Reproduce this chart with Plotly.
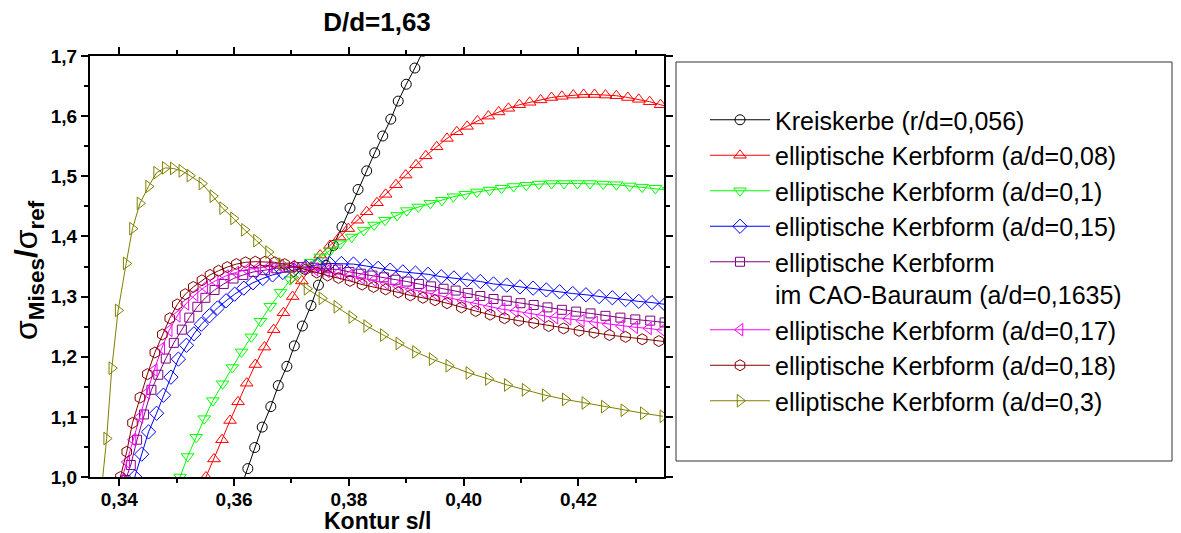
import plotly.graph_objects as go

# ---------------- data ----------------
names = [
    "Kreiskerbe (r/d=0,056)",
    "elliptische Kerbform (a/d=0,08)",
    "elliptische Kerbform (a/d=0,1)",
    "elliptische Kerbform (a/d=0,15)",
    "elliptische Kerbform<br>im CAO-Bauraum (a/d=0,1635)",
    "elliptische Kerbform (a/d=0,17)",
    "elliptische Kerbform (a/d=0,18)",
    "elliptische Kerbform (a/d=0,3)",
]

kreis_x = [0.3611, 0.3624, 0.3636, 0.3649, 0.3664, 0.3677, 0.3692, 0.3705, 0.3719, 0.3734, 0.3747,
           0.3760, 0.3773, 0.3788, 0.3802, 0.3816, 0.3831, 0.3845, 0.3859, 0.3873, 0.3886,
           0.3900, 0.3915, 0.3929]
kreis_y = [0.980, 1.014, 1.049, 1.083, 1.117, 1.152, 1.184, 1.218, 1.251, 1.285, 1.319,
           1.352, 1.385, 1.416, 1.447, 1.478, 1.509, 1.539, 1.567, 1.595, 1.625,
           1.653, 1.680, 1.708]

a008_x = [0.3551, 0.3565, 0.3579, 0.3593, 0.3607, 0.3622, 0.3637, 0.3653, 0.3669, 0.3686,
          0.3702, 0.3718, 0.3734, 0.3750, 0.3767, 0.3784, 0.3799, 0.3815, 0.3831, 0.3849,
          0.3864, 0.3882, 0.3899, 0.3917, 0.3934, 0.3953, 0.3971, 0.3988, 0.4006, 0.4024,
          0.4043, 0.4061, 0.4078, 0.4097, 0.4115, 0.4134, 0.4153, 0.4171, 0.4191, 0.4209,
          0.4228, 0.4247, 0.4266, 0.4286, 0.4305, 0.4324, 0.4343, 0.4362]
a008_y = [1.000, 1.030, 1.062, 1.094, 1.125, 1.156, 1.187, 1.216, 1.245, 1.273,
          1.300, 1.326, 1.349, 1.369, 1.385, 1.399, 1.413, 1.427, 1.441, 1.456,
          1.470, 1.486, 1.502, 1.519, 1.534, 1.549, 1.563, 1.574, 1.583, 1.592,
          1.600, 1.607, 1.613, 1.619, 1.623, 1.627, 1.631, 1.633, 1.635, 1.636,
          1.636, 1.635, 1.634, 1.631, 1.628, 1.624, 1.619, 1.614]

a01_x = [0.3506, 0.3519, 0.3534, 0.3548, 0.3563, 0.3580, 0.3597, 0.3613, 0.3630, 0.3646,
         0.3663, 0.3681, 0.3698, 0.3716, 0.3733, 0.3750, 0.3767, 0.3785, 0.3805, 0.3826,
         0.3844, 0.3863, 0.3884, 0.3901, 0.3921, 0.3942, 0.3962, 0.3982, 0.4003, 0.4023,
         0.4045, 0.4066, 0.4087, 0.4109, 0.4131, 0.4153, 0.4175, 0.4198, 0.4220, 0.4243,
         0.4266, 0.4289, 0.4311, 0.4334, 0.4357]
a01_y = [1.000, 1.034, 1.066, 1.097, 1.127, 1.155, 1.182, 1.208, 1.233, 1.259,
         1.284, 1.307, 1.328, 1.345, 1.357, 1.366, 1.376, 1.388, 1.399, 1.410,
         1.419, 1.427, 1.435, 1.443, 1.449, 1.455, 1.460, 1.466, 1.470, 1.474,
         1.477, 1.480, 1.483, 1.485, 1.487, 1.488, 1.488, 1.488, 1.488, 1.487,
         1.486, 1.484, 1.482, 1.480, 1.477]

a015_x = [0.3427, 0.3439, 0.3451, 0.3465, 0.3477, 0.3490, 0.3503, 0.3517, 0.3530, 0.3543,
          0.3557, 0.3571, 0.3586, 0.3601, 0.3617, 0.3633, 0.3650, 0.3667, 0.3685, 0.3704,
          0.3725, 0.3746, 0.3766, 0.3787, 0.3808, 0.3829, 0.3851, 0.3872, 0.3894, 0.3916,
          0.3938, 0.3961, 0.3983, 0.4006, 0.4029, 0.4052, 0.4075, 0.4098, 0.4121, 0.4144,
          0.4167, 0.4190, 0.4213, 0.4236, 0.4259, 0.4282, 0.4305, 0.4328, 0.4351]
a015_y = [1.000, 1.038, 1.075, 1.106, 1.136, 1.166, 1.196, 1.219, 1.238, 1.254,
          1.268, 1.281, 1.293, 1.304, 1.314, 1.323, 1.330, 1.336, 1.340, 1.344,
          1.349, 1.353, 1.355, 1.355, 1.354, 1.351, 1.347, 1.344, 1.341, 1.339,
          1.337, 1.333, 1.331, 1.328, 1.325, 1.321, 1.319, 1.316, 1.314, 1.311,
          1.308, 1.305, 1.303, 1.300, 1.298, 1.295, 1.292, 1.290, 1.287]

a01635_x = [0.3411, 0.3420, 0.3431, 0.3443, 0.3456, 0.3468, 0.3481, 0.3495, 0.3509, 0.3522,
            0.3536, 0.3550, 0.3566, 0.3582, 0.3599, 0.3616, 0.3634, 0.3654, 0.3674, 0.3696,
            0.3718, 0.3740, 0.3761, 0.3781, 0.3801, 0.3821, 0.3841, 0.3861, 0.3881, 0.3901,
            0.3922, 0.3943, 0.3965, 0.3986, 0.4007, 0.4029, 0.4052, 0.4075, 0.4099, 0.4122,
            0.4146, 0.4171, 0.4196, 0.4221, 0.4247, 0.4273, 0.4299, 0.4325, 0.4350]
a01635_y = [0.995, 1.020, 1.062, 1.104, 1.145, 1.170, 1.197, 1.223, 1.245, 1.265,
            1.283, 1.298, 1.311, 1.321, 1.330, 1.336, 1.341, 1.344, 1.347, 1.348,
            1.349, 1.348, 1.347, 1.345, 1.341, 1.338, 1.335, 1.332, 1.328, 1.325,
            1.321, 1.317, 1.313, 1.310, 1.306, 1.301, 1.296, 1.293, 1.289, 1.286,
            1.282, 1.278, 1.275, 1.272, 1.268, 1.265, 1.262, 1.260, 1.257]

a017_x = [0.3404, 0.3413, 0.3424, 0.3436, 0.3448, 0.3461, 0.3474, 0.3487, 0.3501, 0.3516,
          0.3532, 0.3549, 0.3567, 0.3585, 0.3603, 0.3622, 0.3641, 0.3661, 0.3681, 0.3701,
          0.3721, 0.3741, 0.3761, 0.3781, 0.3801, 0.3822, 0.3843, 0.3864, 0.3886, 0.3908,
          0.3930, 0.3952, 0.3975, 0.3998, 0.4021, 0.4044, 0.4067, 0.4090, 0.4113, 0.4136,
          0.4159, 0.4182, 0.4205, 0.4228, 0.4251, 0.4274, 0.4298, 0.4322, 0.4346]
a017_y = [0.995, 1.025, 1.062, 1.100, 1.140, 1.178, 1.214, 1.244, 1.268, 1.288,
          1.303, 1.316, 1.326, 1.334, 1.340, 1.345, 1.348, 1.350, 1.351, 1.350,
          1.348, 1.345, 1.342, 1.339, 1.335, 1.331, 1.327, 1.322, 1.317, 1.312,
          1.307, 1.303, 1.298, 1.293, 1.288, 1.283, 1.279, 1.276, 1.272, 1.268,
          1.265, 1.263, 1.260, 1.257, 1.254, 1.251, 1.249, 1.247, 1.244]

a018_x = [0.3402, 0.3413, 0.3423, 0.3436, 0.3449, 0.3462, 0.3475, 0.3488, 0.3501, 0.3515,
          0.3529, 0.3544, 0.3558, 0.3573, 0.3588, 0.3604, 0.3620, 0.3637, 0.3654, 0.3671,
          0.3688, 0.3705, 0.3724, 0.3744, 0.3763, 0.3782, 0.3802, 0.3823, 0.3843, 0.3864,
          0.3886, 0.3907, 0.3929, 0.3950, 0.3971, 0.3996, 0.4021, 0.4046, 0.4071, 0.4096,
          0.4122, 0.4148, 0.4174, 0.4201, 0.4227, 0.4254, 0.4282, 0.4311, 0.4340, 0.4369]
a018_y = [1.000, 1.042, 1.090, 1.132, 1.171, 1.207, 1.237, 1.264, 1.287, 1.304,
          1.316, 1.327, 1.336, 1.343, 1.349, 1.354, 1.357, 1.358, 1.358, 1.357,
          1.354, 1.350, 1.345, 1.340, 1.335, 1.331, 1.326, 1.320, 1.316, 1.312,
          1.307, 1.302, 1.298, 1.294, 1.289, 1.282, 1.276, 1.270, 1.264, 1.260,
          1.256, 1.251, 1.247, 1.243, 1.240, 1.236, 1.233, 1.229, 1.226, 1.223]

a03_x = [0.3367, 0.3378, 0.3387, 0.3398, 0.3412, 0.3423, 0.3436, 0.3451, 0.3465, 0.3480,
         0.3494, 0.3509, 0.3523, 0.3544, 0.3563, 0.3580, 0.3599, 0.3618, 0.3639, 0.3660,
         0.3683, 0.3703, 0.3727, 0.3753, 0.3779, 0.3805, 0.3831, 0.3860, 0.3887, 0.3916,
         0.3945, 0.3974, 0.4009, 0.4043, 0.4076, 0.4107, 0.4142, 0.4177, 0.4211, 0.4245,
         0.4279, 0.4313, 0.4347]
a03_y = [0.960, 1.064, 1.181, 1.277, 1.355, 1.413, 1.455, 1.483, 1.506, 1.514,
         1.513, 1.509, 1.501, 1.488, 1.467, 1.447, 1.430, 1.411, 1.393, 1.374,
         1.354, 1.332, 1.313, 1.297, 1.283, 1.266, 1.251, 1.236, 1.222, 1.208,
         1.196, 1.185, 1.173, 1.163, 1.153, 1.145, 1.136, 1.129, 1.123, 1.117,
         1.111, 1.106, 1.101]

series_x = [kreis_x, a008_x, a01_x, a015_x, a01635_x, a017_x, a018_x, a03_x]
series_y = [kreis_y, a008_y, a01_y, a015_y, a01635_y, a017_y, a018_y, a03_y]

colors = ["#000000", "#FF0000", "#00FF00", "#0000FF", "#800080", "#FF00FF", "#800000", "#808000"]
symbols = ["circle-open", "triangle-up-open", "triangle-down-open", "diamond-open",
           "square-open", "triangle-left-open", "hexagon-open", "triangle-right-open"]
sizes = [10, 11, 11, 11, 9, 11, 11, 11]

x_ticks = [0.34, 0.36, 0.38, 0.40, 0.42]
y_ticks = [1.0, 1.1, 1.2, 1.3, 1.4, 1.5, 1.6, 1.7]

FONT = "Liberation Sans, Arial, sans-serif"

# plot-area geometry in pixels
L, R, T, B = 90, 664, 56, 477
PW, PH = R - L, B - T

def px_x(p):
    return (p - L) / PW

def px_y(p):
    return (B - p) / PH

fig = go.Figure()
for name, xs, ys, c, s, sz in zip(names, series_x, series_y, colors, symbols, sizes):
    fig.add_trace(go.Scatter(
        x=xs, y=ys, name=name, mode="lines+markers",
        line=dict(color=c, width=1),
        marker=dict(symbol=s, size=sz, color=c, line=dict(color=c, width=1)),
    ))

axis_common = dict(
    showline=True, linecolor="black", linewidth=2, mirror="allticks",
    ticks="outside", tickcolor="black", tickwidth=2, ticklen=7,
    showgrid=False, zeroline=False, automargin=False,
    tickfont=dict(family=FONT, size=19, color="black", weight="bold"),
)

fig.update_xaxes(
    range=[0.3349, 0.4349], tickvals=x_ticks, tickformat=".2f", ticklabelstandoff=-3,
    minor=dict(dtick=0.01, tick0=0.34, ticks="outside", ticklen=4, tickwidth=2, tickcolor="black"),
    **axis_common,
)
fig.update_yaxes(
    range=[1.0, 1.7], tickvals=y_ticks, tickformat=".1f",
    minor=dict(dtick=0.05, tick0=1.0, ticks="outside", ticklen=4, tickwidth=2, tickcolor="black"),
    **axis_common,
)

# axis titles
fig.add_annotation(text="<b>Kontur s/l</b>", xref="paper", yref="paper",
                   x=px_x(377), y=px_y(521), xanchor="center", yanchor="middle",
                   showarrow=False, font=dict(family=FONT, size=23, color="black"))
fig.add_annotation(text="σ<sub><b>Mises</b></sub><b>/</b>σ<sub><b>ref</b></sub>",
                   xref="paper", yref="paper", x=px_x(28), y=px_y(270),
                   xanchor="center", yanchor="middle", textangle=-90,
                   showarrow=False, font=dict(family=FONT, size=32, color="black"))

# legend frame
fig.add_shape(type="rect", xref="paper", yref="paper",
              x0=px_x(676), x1=px_x(1172), y0=px_y(461), y1=px_y(62),
              line=dict(color="#333333", width=1), fillcolor="rgba(0,0,0,0)")

fig.update_layout(
    width=1181, height=533,
    margin=dict(l=L, r=1181 - R, t=T, b=533 - B),
    paper_bgcolor="white", plot_bgcolor="white",
    separators=", ",
    title=dict(text="<b>D/d=1,63</b>", x=377 / 1181, xanchor="center",
               y=1 - 22 / 533, yanchor="middle", yref="container",
               font=dict(family=FONT, size=26, color="black")),
    legend=dict(x=px_x(705), xanchor="left", y=px_y(97), yanchor="top",
                font=dict(family=FONT, size=25, color="black"),
                bgcolor="rgba(0,0,0,0)", borderwidth=0, itemwidth=60,
                valign="top", tracegroupgap=0),
    font=dict(family=FONT, color="black"),
)

fig.write_html("out.html")
